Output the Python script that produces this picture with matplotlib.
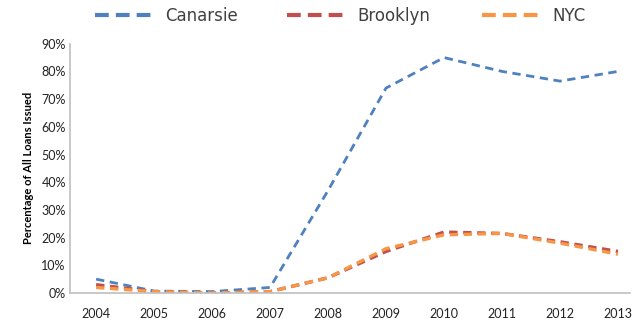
import matplotlib.pyplot as plt
import matplotlib.ticker as mtick
from matplotlib.lines import Line2D

plt.rcParams['font.family'] = ['Lato', 'DejaVu Sans']

years = ['2004', '2005', '2006', '2007', '2008', '2009', '2010', '2011', '2012', '2013']
canarsie = [5.0, 0.7, 0.5, 2.0, 37.0, 74.0, 85.0, 80.0, 76.5, 80.0]
brooklyn = [3.0, 0.5, 0.0, 0.5, 5.5, 15.0, 22.0, 21.5, 18.5, 15.0]
nyc = [2.0, 0.5, 0.0, 0.5, 5.5, 16.0, 21.0, 21.5, 18.0, 14.0]

names = ['Canarsie', 'Brooklyn', 'NYC']
colors = ['#4F81BD', '#C0504D', '#F79646']

x = range(len(years))

fig = plt.figure(figsize=(6.33, 3.25), dpi=100)
ax = fig.add_axes([0.1106, 0.0985, 0.884, 0.767])

ax.plot(x, canarsie, color=colors[0], lw=2, dashes=(3, 2))
ax.plot(x, brooklyn, color=colors[1], lw=2.4, dashes=(2.5, 1.7))
ax.plot(x, nyc, color=colors[2], lw=2.4, dashes=(2.5, 1.7))

ax.set_ylim(0, 90)
ax.set_xlim(-0.45, 9.2)
ax.set_yticks(range(0, 91, 10))
ax.yaxis.set_major_formatter(mtick.FuncFormatter(lambda v, p: f'{int(v)}%'))
ax.set_xticks(list(x))
ax.set_xticklabels(years)
ax.tick_params(length=0, labelsize=9, colors='#222222')
ax.tick_params(axis='x', pad=11)
ax.tick_params(axis='y', pad=3)

for s in ['top', 'right']:
    ax.spines[s].set_visible(False)
for s in ['left', 'bottom']:
    ax.spines[s].set_color('#BFBFBF')
    ax.spines[s].set_linewidth(1.2)

ax.set_ylabel('Percentage of All Loans Issued', fontsize=8, fontweight='bold', labelpad=5)

# legend: one entry per slot, evenly spaced like Excel does it
slots = [95 / 633, 287 / 633, 482 / 633]
for name, c, sx in zip(names, colors, slots):
    h = Line2D([], [], color=c, lw=3, dashes=(3.3, 1.7))
    fig.legend([h], [name], loc='center left', bbox_to_anchor=(sx, 0.951),
               frameon=False, borderpad=0, borderaxespad=0,
               prop={'family': 'DejaVu Sans', 'size': 12},
               handlelength=3.4, handletextpad=0.8, labelcolor='#404040')

fig.savefig('out.png', dpi=100)
